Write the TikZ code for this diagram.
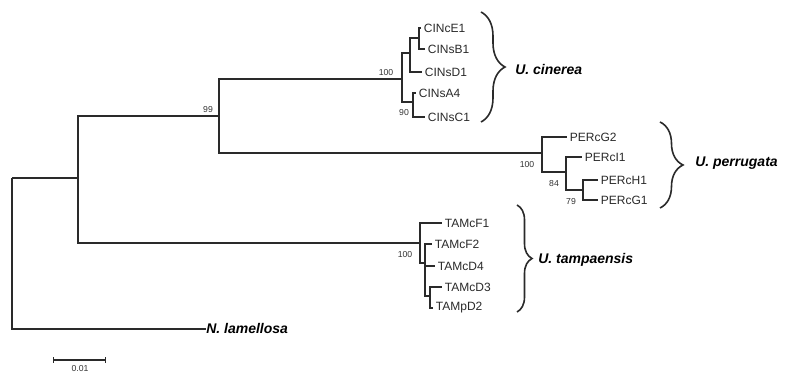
\documentclass[tikz,border=0pt]{standalone}
\usepackage{fontspec}
\setmainfont{Liberation Sans}
\usetikzlibrary{decorations.pathreplacing,arrows.meta}
\definecolor{treeclr}{HTML}{2A2A2A}
\definecolor{bootclr}{HTML}{333333}
\begin{document}
\begin{tikzpicture}[x=0.75pt,y=-0.75pt,
  br/.style={draw=treeclr, line width=1.1pt},
  leaf/.style={anchor=west, inner xsep=2pt, inner ysep=0pt, text=treeclr, font=\fontsize{9}{10}\selectfont},
  boot/.style={inner sep=0pt, text=bootclr, font=\fontsize{6.5}{7.5}\selectfont},
  species/.style={anchor=west, inner sep=0pt, text=black, font=\fontsize{10.5}{12}\selectfont\bfseries\itshape},
  clbrace/.style={draw=treeclr, line width=1.2pt, decorate, decoration={brace, amplitude=#1}},
]
\fill[white] (0,0) rectangle (794,373);
\useasboundingbox (0,0) rectangle (794,373);

% internal nodes (x of the vertical bar, y where the stem arrives)
\coordinate (root) at (12,178);
\coordinate (ing) at (78,178);
\coordinate (A) at (219,116);
\coordinate (C) at (402,79);
\coordinate (U) at (410,53);
\coordinate (EB) at (419,38);
\coordinate (L) at (413,102);
\coordinate (P) at (542,153);
\coordinate (I) at (566,172);
\coordinate (HG) at (583,190);
\coordinate (T1) at (420,243);
\coordinate (T2) at (425,263);
\coordinate (T3) at (430,296);

% leaves
\node[leaf] (e1) at (421,28) {CINcE1};
\node[leaf] (b1) at (425,49) {CINsB1};
\node[leaf] (d1) at (422,72) {CINsD1};
\node[leaf] (a4) at (416,93) {CINsA4};
\node[leaf] (c1) at (425,117) {CINsC1};
\node[leaf] (g2) at (567,137) {PERcG2};
\node[leaf] (i1) at (582,157) {PERcI1};
\node[leaf] (h1) at (598,180) {PERcH1};
\node[leaf] (g1) at (598,200) {PERcG1};
\node[leaf] (f1) at (442,223) {TAMcF1};
\node[leaf] (f2) at (432,244) {TAMcF2};
\node[leaf] (d4) at (435,266) {TAMcD4};
\node[leaf] (d3) at (442,287) {TAMcD3};
\node[leaf] (pd2) at (433,308) {TAMpD2};
\node[species, anchor=west] (lam) at (206,329) {N. lamellosa};

% branches
\draw[br] (root) |- (ing);
\draw[br] (root) |- (lam.west);
\draw[br] (ing) |- (A);
\draw[br] (ing) |- (T1);
\draw[br] (A) |- (C);
\draw[br] (A) |- (P);
\draw[br] (C) |- (U);
\draw[br] (C) |- (L);
\draw[br] (U) |- (EB);
\draw[br] (U) |- (d1.west);
\draw[br] (EB) |- (e1.west);
\draw[br] (EB) |- (b1.west);
\draw[br] (L) |- (a4.west);
\draw[br] (L) |- (c1.west);
\draw[br] (P) |- (g2.west);
\draw[br] (P) |- (I);
\draw[br] (I) |- (i1.west);
\draw[br] (I) |- (HG);
\draw[br] (HG) |- (h1.west);
\draw[br] (HG) |- (g1.west);
\draw[br] (T1) |- (f1.west);
\draw[br] (T1) |- (T2);
\draw[br] (T2) |- (f2.west);
\draw[br] (T2) |- (d4.west);
\draw[br] (T2) |- (T3);
\draw[br] (T3) |- (d3.west);
\draw[br] (T3) |- (pd2.west);

% bootstrap values
\node[boot] (bA) at (208,110) {99};
\node[boot] (bC) at (386,73) {100};
\node[boot] (bL) at (404,113) {90};
\node[boot] (bP) at (527,165) {100};
\node[boot] (bI) at (554,184) {84};
\node[boot] (bHG) at (571,202) {79};
\node[boot] (bT) at (405,255) {100};

% clade braces and names
\coordinate (cinTop) at (481,12);
\coordinate (cinBot) at (481,122);
\draw[clbrace=24pt*0.75] (cinTop) -- (cinBot);
\node[species] (cin) at (515,70) {U. cinerea};
\coordinate (perTop) at (660,122);
\coordinate (perBot) at (660,208);
\draw[clbrace=23pt*0.75] (perTop) -- (perBot);
\node[species] (per) at (695,163) {U. perrugata};
\coordinate (tamTop) at (517,205);
\coordinate (tamBot) at (517,312);
\draw[clbrace=15pt*0.75] (tamTop) -- (tamBot);
\node[species] (tam) at (538,260) {U. tampaensis};

% scale bar
\coordinate (sbl) at (53,360);
\coordinate (sbr) at (106,360);
\draw[draw=treeclr, line width=1.1pt, {Bar[width=4pt]}-{Bar[width=4pt]}] (sbl) -- (sbr);
\node[boot, anchor=north] (sbt) at (80,365) {0.01};
\end{tikzpicture}
\end{document}
